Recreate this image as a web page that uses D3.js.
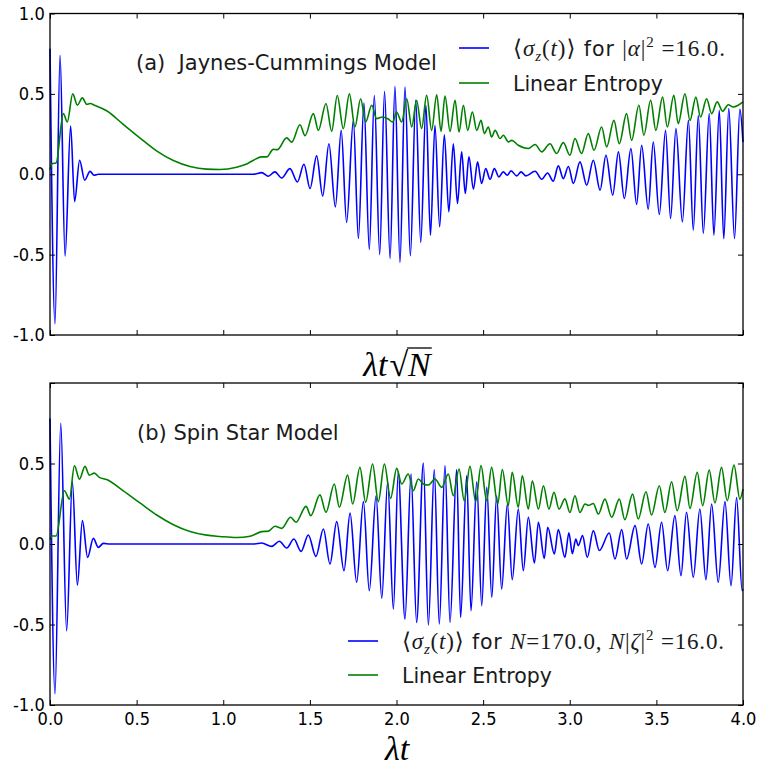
<!DOCTYPE html>
<html>
<head>
<meta charset="utf-8">
<script src="https://cdn.jsdelivr.net/npm/d3@7"></script>
<style>
    body { margin: 0; background: #fff; }
    svg text { white-space: pre; }
</style>
</head>
<body>
<svg id="chart" width="758" height="767"></svg>
<script>
var xTicks = [0, 0.5, 1, 1.5, 2, 2.5, 3, 3.5, 4];
var yTicks = [-1, -0.5, 0, 0.5, 1];

// (a) Jaynes-Cummings, <sigma_z(t)> turning points
var jcSigma = [
    [0.000, 0.78], [0.029, -0.93], [0.058, 0.74], [0.087, -0.51], [0.119, 0.30],
    [0.142, -0.17], [0.171, 0.087], [0.200, -0.037], [0.231, 0.018], [0.254, -0.006],
    [0.280, 0.0], [1.174, 0.0], [1.222, 0.010], [1.260, -0.012], [1.298, 0.015],
    [1.337, -0.023], [1.385, 0.035], [1.428, -0.048], [1.466, 0.062], [1.501, -0.089],
    [1.539, 0.114], [1.574, -0.135], [1.610, 0.190], [1.647, -0.203], [1.681, 0.273],
    [1.712, -0.300], [1.751, 0.335], [1.780, -0.400], [1.812, 0.443], [1.843, -0.468],
    [1.872, 0.490], [1.903, -0.500], [1.931, 0.515], [1.963, -0.524], [1.991, 0.545],
    [2.020, -0.549], [2.049, 0.542], [2.080, -0.507], [2.111, 0.460], [2.140, -0.424],
    [2.170, 0.429], [2.196, -0.379], [2.222, 0.305], [2.249, -0.327], [2.276, 0.246],
    [2.302, -0.234], [2.328, 0.190], [2.352, -0.182], [2.376, 0.139], [2.397, -0.120],
    [2.418, 0.108], [2.444, -0.093], [2.468, 0.077], [2.491, -0.058], [2.515, 0.035],
    [2.540, -0.031], [2.565, 0.035], [2.591, -0.017], [2.616, 0.015], [2.639, -0.006],
    [2.661, 0.021], [2.694, -0.010], [2.719, 0.015], [2.746, -0.010], [2.800, 0.019],
    [2.838, -0.031], [2.872, 0.008], [2.905, -0.043], [2.934, 0.052], [2.963, -0.027],
    [2.992, 0.048], [3.021, -0.057], [3.059, 0.077], [3.098, -0.068], [3.136, 0.087],
    [3.175, -0.099], [3.209, 0.118], [3.248, -0.130], [3.281, 0.139], [3.315, -0.151],
    [3.353, 0.160], [3.386, -0.188], [3.415, 0.180], [3.453, -0.217], [3.482, 0.201],
    [3.517, -0.250], [3.553, 0.273], [3.582, -0.275], [3.613, 0.284], [3.650, -0.296],
    [3.685, 0.335], [3.713, -0.348], [3.742, 0.366], [3.771, -0.368], [3.805, 0.377],
    [3.832, -0.379], [3.863, 0.398], [3.889, -0.400], [3.918, 0.408], [3.951, -0.400],
    [3.982, 0.404], [4.000, 0.200]
];

var jcEntropy = [
    [0.000, 0.030], [0.012, 0.066], [0.035, 0.070], [0.077, 0.377], [0.100, 0.325],
    [0.131, 0.500], [0.158, 0.430], [0.187, 0.475], [0.212, 0.435], [0.231, 0.440],
    [0.260, 0.428], [0.327, 0.395], [0.423, 0.310], [0.520, 0.225], [0.615, 0.145],
    [0.712, 0.085], [0.808, 0.048], [0.904, 0.032], [0.981, 0.030], [1.077, 0.044],
    [1.135, 0.064], [1.174, 0.087], [1.222, 0.108], [1.251, 0.108], [1.289, 0.155],
    [1.312, 0.153], [1.366, 0.226], [1.395, 0.200], [1.443, 0.308], [1.472, 0.240],
    [1.520, 0.377], [1.549, 0.273], [1.593, 0.440], [1.626, 0.267], [1.658, 0.490],
    [1.693, 0.284], [1.728, 0.500], [1.760, 0.294], [1.793, 0.470], [1.822, 0.325],
    [1.857, 0.429], [1.885, 0.346], [1.920, 0.356], [1.950, 0.345], [1.978, 0.325],
    [2.000, 0.387], [2.030, 0.325], [2.059, 0.470], [2.088, 0.294], [2.116, 0.460],
    [2.145, 0.284], [2.174, 0.491], [2.203, 0.273], [2.232, 0.495], [2.257, 0.267],
    [2.280, 0.487], [2.309, 0.267], [2.338, 0.460], [2.361, 0.263], [2.386, 0.429],
    [2.411, 0.273], [2.438, 0.387], [2.463, 0.273], [2.488, 0.335], [2.507, 0.253],
    [2.530, 0.294], [2.549, 0.232], [2.569, 0.273], [2.598, 0.222], [2.617, 0.243],
    [2.646, 0.201], [2.665, 0.211], [2.703, 0.180], [2.761, 0.160], [2.800, 0.185],
    [2.838, 0.139], [2.886, 0.190], [2.924, 0.129], [2.963, 0.197], [3.001, 0.118],
    [3.030, 0.222], [3.068, 0.129], [3.107, 0.253], [3.140, 0.149], [3.184, 0.294],
    [3.213, 0.170], [3.255, 0.335], [3.286, 0.190], [3.328, 0.377], [3.357, 0.211],
    [3.399, 0.429], [3.428, 0.243], [3.467, 0.460], [3.497, 0.273], [3.536, 0.480],
    [3.563, 0.294], [3.601, 0.491], [3.626, 0.315], [3.665, 0.501], [3.694, 0.335],
    [3.728, 0.480], [3.755, 0.356], [3.790, 0.470], [3.819, 0.377], [3.851, 0.450],
    [3.882, 0.392], [3.915, 0.432], [3.943, 0.418], [3.972, 0.429], [4.000, 0.450]
];

// (b) spin star model
var ssSigma = [
    [0.000, 0.78], [0.029, -0.93], [0.062, 0.75], [0.096, -0.54], [0.129, 0.387],
    [0.158, -0.255], [0.187, 0.145], [0.217, -0.083], [0.250, 0.035], [0.279, -0.021],
    [0.308, 0.004], [0.346, 0.0], [1.180, 0.0], [1.222, 0.006], [1.279, -0.015],
    [1.324, 0.017], [1.366, -0.025], [1.408, 0.031], [1.449, -0.046], [1.491, 0.056],
    [1.535, -0.077], [1.578, 0.093], [1.616, -0.124], [1.655, 0.139], [1.697, -0.166],
    [1.732, 0.192], [1.770, -0.238], [1.809, 0.263], [1.843, -0.290], [1.882, 0.300],
    [1.915, -0.338], [1.949, 0.387], [1.982, -0.404], [2.010, 0.445], [2.049, -0.466],
    [2.084, 0.435], [2.116, -0.487], [2.155, 0.503], [2.184, -0.503], [2.218, 0.462],
    [2.247, -0.497], [2.280, 0.487], [2.309, -0.487], [2.347, 0.462], [2.370, -0.456],
    [2.405, 0.424], [2.430, -0.414], [2.463, 0.387], [2.492, -0.383], [2.521, 0.352],
    [2.550, -0.332], [2.578, 0.300], [2.607, -0.280], [2.640, 0.248], [2.668, -0.222],
    [2.703, 0.217], [2.732, -0.166], [2.761, 0.166], [2.796, -0.118], [2.819, 0.135],
    [2.853, -0.089], [2.873, 0.104], [2.911, -0.062], [2.934, 0.089], [2.972, -0.083],
    [2.995, 0.070], [3.015, -0.060], [3.035, 0.030], [3.049, -0.010], [3.074, 0.052],
    [3.101, -0.083], [3.136, 0.083], [3.171, -0.040], [3.228, 0.068], [3.261, -0.093],
    [3.300, 0.089], [3.328, -0.093], [3.377, 0.114], [3.415, -0.124], [3.453, 0.124],
    [3.492, -0.145], [3.530, 0.135], [3.565, -0.166], [3.607, 0.176], [3.642, -0.197],
    [3.674, 0.197], [3.713, -0.207], [3.751, 0.217], [3.786, -0.222], [3.819, 0.248],
    [3.857, -0.238], [3.896, 0.263], [3.931, -0.259], [3.963, 0.289], [3.995, -0.290],
    [4.000, -0.280]
];

var ssEntropy = [
    [0.000, 0.027], [0.012, 0.050], [0.035, 0.050], [0.083, 0.331], [0.112, 0.279],
    [0.141, 0.486], [0.170, 0.403], [0.202, 0.482], [0.227, 0.428], [0.256, 0.440],
    [0.285, 0.414], [0.327, 0.400], [0.423, 0.330], [0.519, 0.255], [0.616, 0.180],
    [0.712, 0.120], [0.808, 0.078], [0.904, 0.055], [0.981, 0.047], [1.077, 0.040],
    [1.155, 0.048], [1.222, 0.077], [1.260, 0.080], [1.299, 0.110], [1.337, 0.097],
    [1.389, 0.166], [1.420, 0.135], [1.478, 0.234], [1.505, 0.176], [1.558, 0.305],
    [1.593, 0.197], [1.641, 0.373], [1.670, 0.228], [1.718, 0.428], [1.747, 0.248],
    [1.789, 0.476], [1.822, 0.259], [1.862, 0.497], [1.895, 0.263], [1.930, 0.497],
    [1.966, 0.284], [2.001, 0.470], [2.030, 0.373], [2.068, 0.435], [2.097, 0.331],
    [2.126, 0.404], [2.155, 0.373], [2.184, 0.366], [2.222, 0.404], [2.261, 0.352],
    [2.299, 0.435], [2.328, 0.300], [2.361, 0.466], [2.391, 0.269], [2.424, 0.482],
    [2.457, 0.263], [2.488, 0.487], [2.520, 0.269], [2.549, 0.476], [2.584, 0.248],
    [2.611, 0.462], [2.645, 0.238], [2.668, 0.445], [2.703, 0.228], [2.726, 0.424],
    [2.761, 0.217], [2.784, 0.393], [2.819, 0.217], [2.848, 0.362], [2.880, 0.217],
    [2.909, 0.321], [2.938, 0.217], [2.972, 0.280], [3.001, 0.196], [3.030, 0.300],
    [3.059, 0.196], [3.088, 0.248], [3.110, 0.240], [3.136, 0.252], [3.165, 0.186],
    [3.203, 0.279], [3.242, 0.166], [3.286, 0.279], [3.318, 0.151], [3.363, 0.310],
    [3.395, 0.155], [3.440, 0.325], [3.472, 0.180], [3.517, 0.362], [3.549, 0.196],
    [3.588, 0.387], [3.620, 0.207], [3.665, 0.420], [3.694, 0.221], [3.736, 0.445],
    [3.767, 0.238], [3.805, 0.459], [3.838, 0.255], [3.876, 0.476], [3.909, 0.269],
    [3.948, 0.490], [3.982, 0.279], [4.000, 0.341]
];

var blue = "#0000ff",
    green = "#008000",
    sans = "DejaVu Sans",
    serif = "Liberation Serif";

var svg = d3.select("#chart");
svg.append("rect").attr("width", 758).attr("height", 767).attr("fill", "#fff");

var x = d3.scaleLinear().domain([0, 4]).range([50, 743]);

function fmt(d) { return d.toFixed(1); }

function drawPanel(p) {
    var y = d3.scaleLinear().domain([-1, 1]).range([p.bottom, p.top]);
    var g = svg.append("g");

    var line = d3.line()
        .x(function (d) { return x(d[0]); })
        .y(function (d) { return y(d[1]); })
        .curve(d3.curveMonotoneX);

    g.append("path").datum(p.sigma)
        .attr("d", line)
        .attr("fill", "none")
        .attr("stroke", blue)
        .attr("stroke-width", 1.6);

    g.append("path").datum(p.entropy)
        .attr("d", line)
        .attr("fill", "none")
        .attr("stroke", green)
        .attr("stroke-width", 1.6);

    // ticks point inward on all four sides
    var axes = [
        { a: d3.axisBottom(x).tickValues(xTicks), t: "translate(0," + p.bottom + ")", lab: p.xLabels, isY: false },
        { a: d3.axisTop(x).tickValues(xTicks), t: "translate(0," + p.top + ")", lab: false, isY: false },
        { a: d3.axisLeft(y).tickValues(yTicks), t: "translate(50,0)", lab: true, isY: true },
        { a: d3.axisRight(y).tickValues(yTicks), t: "translate(743,0)", lab: false, isY: true }
    ];
    axes.forEach(function (ax) {
        ax.a.tickSizeInner(-5).tickSizeOuter(0).tickPadding(ax.isY ? 6 : 7)
            .tickFormat(function (d) {
                if (!ax.lab) return "";
                if (ax.isY && p.skipTop && d === 1) return "";
                return fmt(d);
            });
        var ag = g.append("g").attr("transform", ax.t).call(ax.a);
        ag.select(".domain").remove();
        ag.selectAll("line").attr("stroke", "#000").attr("stroke-width", 1);
        ag.selectAll("text")
            .attr("font-family", sans)
            .attr("font-size", 18.5)
            .attr("fill", "#000")
            .attr("transform", "scale(0.88,1)");
        if (ax.isY) ag.selectAll("text").attr("dy", "0.3em");
    });

    g.append("rect")
        .attr("x", 50).attr("y", p.top)
        .attr("width", 693).attr("height", p.bottom - p.top)
        .attr("fill", "none")
        .attr("stroke", "#000")
        .attr("stroke-width", 1.3);

    g.append("text")
        .attr("x", p.titleX).attr("y", p.titleY)
        .attr("font-family", sans).attr("font-size", 21)
        .attr("fill", "#1a1a1a")
        .text(p.title);

    // legend
    var items = [
        { c: blue, y: p.legY[0], parts: p.legSigma, len: p.legLen },
        { c: green, y: p.legY[1], parts: [{ t: "Linear Entropy", f: sans }], len: null }
    ];
    items.forEach(function (it) {
        g.append("line")
            .attr("x1", p.legX).attr("x2", p.legX + 30)
            .attr("y1", it.y).attr("y2", it.y)
            .attr("stroke", it.c).attr("stroke-width", 1.6);
        var txt = g.append("text")
            .attr("x", p.legTextX).attr("y", it.y + 7.5)
            .attr("fill", "#1a1a1a");
        if (it.len) txt.attr("textLength", it.len).attr("lengthAdjust", "spacing");
        it.parts.forEach(function (s) {
            txt.append("tspan")
                .attr("font-family", s.f || serif)
                .attr("font-size", s.f === sans ? 20.5 : (s.small ? 15 : 23))
                .attr("font-style", s.i ? "italic" : null)
                .attr("dy", s.dy || null)
                .text(s.t);
        });
    });
}

var sigmaStart = [
    { t: "\u27E8", f: "DejaVu Serif" }, { t: "\u03C3", i: true },
    { t: "z", i: true, small: true, dy: 5 }, { t: "(", dy: -5 }, { t: "t", i: true }, { t: ")" },
    { t: "\u27E9", f: "DejaVu Serif" }, { t: " for ", f: sans }
];

drawPanel({
    top: 13.5, bottom: 335, sigma: jcSigma, entropy: jcEntropy,
    xLabels: false, skipTop: false,
    title: "(a)  Jaynes-Cummings Model", titleX: 136, titleY: 70,
    legY: [48, 83], legX: 459, legTextX: 513, legLen: 212,
    legSigma: sigmaStart.concat([
        { t: "|" }, { t: "\u03B1", i: true }, { t: "|" },
        { t: "2", small: true, dy: -9 }, { t: " =16.0.", dy: 9 }
    ])
});

drawPanel({
    top: 383, bottom: 705, sigma: ssSigma, entropy: ssEntropy,
    xLabels: true, skipTop: true,
    title: "(b) Spin Star Model", titleX: 137, titleY: 440,
    legY: [641, 675], legX: 348, legTextX: 402, legLen: 322,
    legSigma: sigmaStart.concat([
        { t: "N", i: true }, { t: "=170.0, " }, { t: "N", i: true }, { t: "|" },
        { t: "\u03B6", i: true }, { t: "|" },
        { t: "2", small: true, dy: -9 }, { t: " =16.0.", dy: 9 }
    ])
});

// axis labels
function axisLabel(yPos, withRoot) {
    var t = svg.append("text")
        .attr("x", 397).attr("y", yPos)
        .attr("text-anchor", "middle")
        .attr("font-family", serif)
        .attr("font-size", 34)
        .attr("fill", "#000");
    t.append("tspan").attr("font-style", "italic").text("\u03BBt");
    if (!withRoot) return;
    t.append("tspan").attr("dx", 2).text("\u221A");
    t.append("tspan").attr("font-style", "italic").text("N");
    var n = t.node();
    var root = n.getExtentOfChar(2);
    var end = n.getEndPositionOfChar(3);
    svg.append("line")
        .attr("x1", root.x + root.width - 1).attr("x2", end.x + 1)
        .attr("y1", root.y + 2).attr("y2", root.y + 2)
        .attr("stroke", "#000").attr("stroke-width", 1.3);
}
axisLabel(376, true);
axisLabel(760, false);
</script>
</body>
</html>
